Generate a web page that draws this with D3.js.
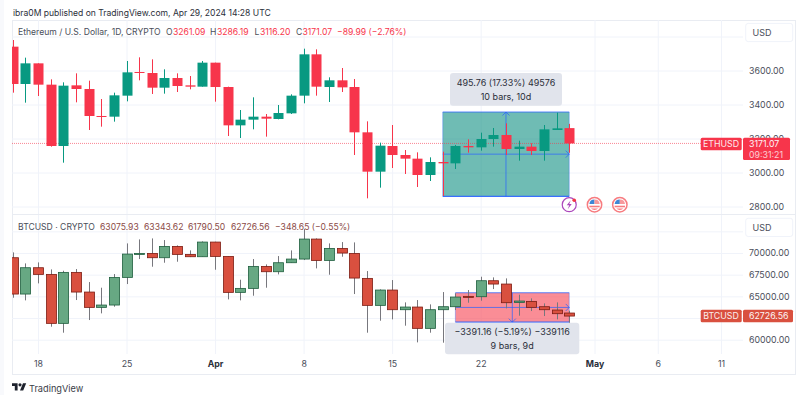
<!DOCTYPE html>
<html>
<head>
<meta charset="utf-8">
<script src="https://d3js.org/d3.v7.min.js"></script>
<style>
html, body { margin: 0; padding: 0; background: #fff; }
svg { display: block; font-family: Inter, "Noto Sans", sans-serif; }
</style>
</head>
<body>
<div class="canvas"></div>
<script>
const firstDay = Date.UTC(2024, 2, 16)
const lastDay = Date.UTC(2024, 3, 29)

const ethOpen = [3740.2,3520.6,3642.1,3516.7,3155.9,3512.7,3491.2,3332.4,3328.4,3452,3591.2,3585.3,3499,3555.9,3512.7,3504.9,3646.1,3502.9,3277.4,3310.8,3328.4,3314.7,3348,3452,3695.1,3502.9,3542.2,3502.9,3236.3,3004.9,3155.9,3102.9,3081.4,2985.3,3061.7,3053.9,3155.9,3148,3197,3220.6,3138.2,3152,3126.5,3250,3261.09]
const ethHigh = [3779.4,3675.5,3642.1,3548,3530.4,3583.3,3540.2,3432.3,3469.6,3655.9,3677.4,3665.7,3606.9,3583.3,3567.6,3655.9,3646.1,3504.9,3367.6,3442.2,3344.1,3397,3459.8,3728.4,3724.5,3559.8,3614.7,3550,3301,3175.5,3279.4,3132.3,3118.6,3089.2,3122.5,3161.8,3195,3234.3,3261.8,3289.2,3187.3,3171.6,3279.4,3351.9,3286.19]
const ethLow = [3469.6,3410.8,3450,3152,3057.8,3412.7,3250,3269.6,3299,3418.6,3542.2,3461.8,3463.7,3473.5,3489.2,3504.9,3416.6,3214.7,3202.9,3253.9,3210.8,3312.7,3344.1,3406.9,3452,3414.7,3473.5,3102.9,2848,2910.8,3026.4,2991.2,2914.7,2950,2861.8,3020.6,3116.6,3128.4,3152,3102.9,3069.6,3102.9,3069.6,3250,3116.2]
const ethClose = [3520.6,3642.1,3516.7,3155.9,3510.8,3491.2,3332.4,3326.5,3453.9,3589.2,3587.2,3499,3555.9,3508.8,3504.9,3646.1,3502.9,3277.4,3310.8,3328.4,3316.6,3350,3452,3695.1,3504.9,3542.2,3500.9,3236.3,3004.9,3157.8,3102.9,3081.4,2985.3,3061.7,3053.9,3155.9,3148,3197,3220.6,3138.2,3152,3126.5,3253.9,3259.8,3171.07]

const btcOpen = [69455,65266,68302,67533,61884,67764,65496,63728,63998,67187,69877,69954,69455,70761,69839,69570,71261,69608,65458,65919,68455,67840,68878,69301,71607,69147,70531,69954,67072,63959,65727,63459,63767,61307,63459,63805,64997,64958,66803,66419,64305,64420,63805,63421,63075.93]
const btcHigh = [70069,68801,68916,68109,67956,68148,66649,65996,67571,71107,71568,71683,71491,70876,70300,71338,71299,69608,66918,69301,68686,69647,70300,72760,71683,71107,71261,71222,67917,65804,66880,64305,64574,64074,65496,65343,65727,67264,67187,67072,65189,64766,64190,64305,63343.62]
const btcLow = [64843,64536,66495,61500,60808,64574,62268,63037,63805,66418,69301,68417,68878,68993,69531,69570,68071,64651,64536,65073,65996,67533,68878,69186,68225,67494,69570,65266,60808,62191,62345,61615,59693,60808,59655,63421,64267,64497,65842,63613,62768,63306,62729,62345,61790.5]
const btcClose = [65266,68302,67533,61884,67764,65496,63728,63998,67187,69877,69954,69455,70761,69839,69570,71261,69608,65458,65919,68455,67840,68878,69301,71607,69147,70531,69993,67110,63959,65727,63459,63767,61307,63459,63805,64920,64920,66803,66419,64267,64459,63728,63459,63000,62726.56]

const ethTicks = [2800, 3000, 3200, 3400, 3600]
const ethGrid = [2800, 3000, 3200, 3400, 3600, 3800]
const btcTicks = [60000, 65000, 67500, 70000]
const btcGrid = [60000, 62500, 65000, 67500, 70000, 72500]
const timeTicks = ['2024-03-18','2024-03-25','2024-04-01','2024-04-08','2024-04-15','2024-04-22','2024-05-01','2024-05-06','2024-05-11']
const timeLabels = ['18','25','Apr','8','15','22','May','6','11']
const eventDays = ['2024-04-29','2024-05-01','2024-05-03']

// measure tools: [from day, to day, from price, to price]
const ethMeasure = ['2024-04-19', '2024-04-29', 2860.1, 3355.86]
const btcMeasure = ['2024-04-20', '2024-04-29', 65415, 62023.84]

const dims = {width: 808, height: 395, left: 12, right: 743, outer: 796}
const ethPane = {top: 20, bottom: 214}
const btcPane = {top: 215, bottom: 354}

const colors = {
    ethUp: '#089981', ethDown: '#f7354b',
    btcUp: '#67a883', btcDown: '#d9503f',
    btcUpEdge: '#1e5e3e', btcDownEdge: '#7c1c12',
    btcWick: '#77777d',
    grid: '#f0f3fa', text: '#4a4e5a', blue: '#2962ff', tag: '#e0e3eb'
}

const days = d3.utcDay.range(firstDay, lastDay + 1)
const day = s => new Date(s + 'T00:00:00Z')

const x = d3.scaleUtc()
    .domain([day('2024-03-18'), day('2024-05-11')])
    .range([38, 721])

const yEth = d3.scaleLinear().domain([2800, 3600]).range([206.5, 70.5])
const yBtc = d3.scaleLinear().domain([60000, 70000]).range([339.7, 253])

const svg = d3.select('.canvas')
    .append('svg')
    .attr('width', dims.width)
    .attr('height', dims.height)

svg.append('rect').attr('width', dims.width).attr('height', dims.height).attr('fill', '#fff')
svg.append('rect').attr('width', 4).attr('height', dims.height).attr('fill', '#f8f9fc')

const defs = svg.append('defs')
const addClip = (id, pane) => {
    defs.append('clipPath').attr('id', id).append('rect')
        .attr('x', dims.left).attr('y', pane.top)
        .attr('width', dims.right - dims.left).attr('height', pane.bottom - pane.top)
}
addClip('ethClip', ethPane)
addClip('btcClip', btcPane)

// frame of the chart
const hLine = (y, x1, x2) => svg.append('line')
    .attr('x1', x1).attr('x2', x2).attr('y1', y + .5).attr('y2', y + .5)
    .attr('stroke', '#e9ecf2')
hLine(20, dims.left, dims.outer)
hLine(214, dims.left, dims.outer)
hLine(374, dims.left, dims.outer)
svg.append('line').attr('x1', dims.left + .5).attr('x2', dims.left + .5)
    .attr('y1', 20).attr('y2', 374).attr('stroke', '#e9ecf2')
svg.append('line').attr('x1', dims.outer - .5).attr('x2', dims.outer - .5)
    .attr('y1', 20).attr('y2', 374).attr('stroke', '#e9ecf2')

// grid lines
const drawGrid = (scale, values, pane) => {
    svg.append('g').attr('class', 'hgrid')
        .attr('transform', `translate(${dims.left},0)`)
        .call(d3.axisRight(scale).tickValues(values).tickSize(dims.right - dims.left).tickFormat(''))
        .call(g => g.select('.domain').remove())
        .selectAll('line').attr('stroke', colors.grid)
    svg.append('g').attr('class', 'vgrid')
        .attr('transform', `translate(0,${pane.top})`)
        .call(d3.axisBottom(x).tickValues(timeTicks.map(day)).tickSize(pane.bottom - pane.top).tickFormat(''))
        .call(g => g.select('.domain').remove())
        .selectAll('line').attr('stroke', colors.grid)
}
drawGrid(yEth, ethGrid, ethPane)
drawGrid(yBtc, btcGrid, btcPane)

// measure box with its cross and arrows, sits below the candles
const drawMeasure = (m, scale, fill, opacity, tip) => {
    const x1 = x(day(m[0])), x2 = x(day(m[1]))
    const y1 = scale(m[2]), y2 = scale(m[3])
    const top = Math.min(y1, y2), bottom = Math.max(y1, y2)
    const g = svg.append('g').attr('fill', 'none').attr('stroke', colors.blue)
    g.append('rect').attr('x', x1).attr('y', top).attr('width', x2 - x1).attr('height', bottom - top)
        .attr('fill', fill).attr('fill-opacity', opacity).attr('stroke', 'none')
    g.append('line').attr('x1', x1).attr('x2', x2).attr('y1', top).attr('y2', top).attr('stroke-width', 1.2).attr('opacity', .75)
    g.append('line').attr('x1', x1).attr('x2', x2).attr('y1', bottom).attr('y2', bottom).attr('stroke-width', 1.2).attr('opacity', .9)
    g.append('line').attr('x1', x1).attr('x2', x1).attr('y1', top).attr('y2', bottom).attr('opacity', .35)
    g.append('line').attr('x1', x2).attr('x2', x2).attr('y1', top).attr('y2', bottom).attr('opacity', .35)
    const mx = (x1 + x2) / 2, my = (y1 + y2) / 2
    g.append('line').attr('x1', x1).attr('x2', x2).attr('y1', my).attr('y2', my).attr('opacity', .7)
    g.append('line').attr('x1', mx).attr('x2', mx).attr('y1', top).attr('y2', bottom).attr('opacity', .7)
    g.append('path').attr('opacity', .75)
        .attr('d', `M${x2 - 3.5},${my - 3.5}L${x2},${my}L${x2 - 3.5},${my + 3.5}`)
    const ay = tip === 'up' ? top : bottom
    const dir = tip === 'up' ? 1 : -1
    g.append('path').attr('opacity', .75)
        .attr('d', `M${mx - 3.5},${ay + dir * 3.5}L${mx},${ay}L${mx + 3.5},${ay + dir * 3.5}`)
}
drawMeasure(ethMeasure, yEth, '#00897b', .565, 'up')
drawMeasure(btcMeasure, yBtc, '#f7525f', .66, 'down')

// dotted last price line of ETH
svg.append('line')
    .attr('x1', dims.left).attr('x2', 701)
    .attr('y1', yEth(3171.07)).attr('y2', yEth(3171.07))
    .attr('stroke', colors.ethDown).attr('stroke-dasharray', '1 1').attr('opacity', .6)

// candles
const drawCandles = (clip, scale, open, high, low, close, style) => {
    const g = svg.append('g').attr('clip-path', `url(#${clip})`)
    const candle = g.selectAll('g').data(days).enter().append('g')
    const cx = d => Math.round(x(d))
    candle.append('line')
        .attr('x1', d => cx(d) + .5).attr('x2', d => cx(d) + .5)
        .attr('y1', (d, i) => scale(high[i])).attr('y2', (d, i) => scale(low[i]))
        .attr('stroke', (d, i) => style.wick(close[i] >= open[i]))
    candle.append('rect')
        .attr('x', d => cx(d) - 4.5).attr('width', 10)
        .attr('y', (d, i) => scale(Math.max(open[i], close[i])))
        .attr('height', (d, i) => Math.max(1, Math.abs(scale(open[i]) - scale(close[i]))))
        .attr('fill', (d, i) => close[i] >= open[i] ? style.up : style.down)
        .attr('stroke', (d, i) => style.edge ? style.edge(close[i] >= open[i]) : 'none')
        .attr('stroke-width', .8)
}
drawCandles('ethClip', yEth, ethOpen, ethHigh, ethLow, ethClose, {
    up: colors.ethUp, down: colors.ethDown,
    wick: up => up ? colors.ethUp : colors.ethDown
})
drawCandles('btcClip', yBtc, btcOpen, btcHigh, btcLow, btcClose, {
    up: colors.btcUp, down: colors.btcDown,
    wick: () => colors.btcWick,
    edge: up => up ? colors.btcUpEdge : colors.btcDownEdge
})

// measure tags
const drawTag = (x1, x2, y1, y2, lines) => {
    svg.append('rect').attr('x', x1).attr('y', y1).attr('width', x2 - x1).attr('height', y2 - y1)
        .attr('rx', 3).attr('fill', colors.tag).attr('opacity', .97)
    lines.forEach((t, i) => svg.append('text')
        .attr('x', (x1 + x2) / 2).attr('y', y1 + 12.5 + i * 14)
        .attr('text-anchor', 'middle').attr('font-size', 9).attr('fill', '#2a2e39').text(t))
}
drawTag(450, 562, 73, 105.7, ['495.76 (17.33%) 49576', '10 bars, 10d'])
drawTag(445, 579.3, 322.7, 354.3, ['\u22123391.16 (\u22125.19%) \u2212339116', '9 bars, 9d'])

// price axes
const drawPrice = (scale, values) => {
    svg.append('g')
        .attr('transform', 'translate(749,0)')
        .call(d3.axisRight(scale).tickValues(values).tickSize(0).tickPadding(0).tickFormat(d3.format('.2f')))
        .call(g => g.select('.domain').remove())
        .selectAll('text').attr('font-family', 'Inter').attr('font-size', 8.8).attr('fill', colors.text)
}
drawPrice(yEth, ethTicks)
drawPrice(yBtc, btcTicks)

// time axis
svg.append('g')
    .attr('transform', 'translate(0,361)')
    .call(d3.axisBottom(x).tickValues(timeTicks.map(day)).tickSize(0).tickPadding(0)
        .tickFormat((d, i) => timeLabels[i]))
    .call(g => g.select('.domain').remove())
    .selectAll('text')
    .attr('font-family', 'Inter').attr('font-size', 8.8)
    .attr('font-weight', (d, i) => isNaN(+timeLabels[i]) ? 700 : 400)
    .attr('fill', (d, i) => isNaN(+timeLabels[i]) ? '#2a2e39' : colors.text)

// USD buttons
const drawUsd = y => {
    svg.append('rect').attr('x', 745.7).attr('y', y).attr('width', 47).attr('height', 18.2)
        .attr('rx', 2.5).attr('fill', '#fff').attr('stroke', '#f0f3fa')
    svg.append('text').attr('x', 752.5).attr('y', y + 12.4).attr('font-size', 9).attr('fill', colors.text).text('USD')
}
drawUsd(23.4)
drawUsd(218.3)

// last price labels
const drawLabel = (color, name, y, h, right, lines) => {
    svg.append('rect').attr('x', 700.7).attr('y', y).attr('width', 41).attr('height', 12.6)
        .attr('rx', 1.5).attr('fill', color)
    svg.append('text').attr('x', 721).attr('y', y + 9.6).attr('text-anchor', 'middle')
        .attr('font-size', 8.8).attr('fill', '#fff').attr('opacity', .9).text(name)
    svg.append('rect').attr('x', 743).attr('y', y).attr('width', right - 743).attr('height', h)
        .attr('rx', 1.5).attr('fill', color)
    lines.forEach((t, i) => svg.append('text').attr('x', 749).attr('y', y + 9.6 + i * 10.6)
        .attr('font-size', 8.8).attr('fill', '#fff').attr('opacity', i ? .75 : .95).text(t))
}
drawLabel(colors.ethDown, 'ETHUSD', 137.7, 22.3, 790, ['3171.07', '09:31:21'])
drawLabel(colors.btcDown, 'BTCUSD', 309.7, 12.6, 793, ['62726.56'])

// event icons under the ETH pane
const iconY = 204.7
const icons = svg.append('g').selectAll('g').data(eventDays).enter().append('g')
    .attr('transform', d => `translate(${x(day(d))},${iconY})`)
icons.each(function(d, i) {
    const g = d3.select(this)
    if(i === 0) {
        g.append('circle').attr('r', 7).attr('fill', '#fff').attr('stroke', '#ab47bc').attr('stroke-width', 1.2)
        g.append('path').attr('d', 'M1.5,-4.5L-2.5,0.6H0L-1.5,4.5L2.5,-0.8H0Z').attr('fill', '#ab47bc')
        g.append('circle').attr('cx', 5).attr('cy', -4.5).attr('r', 1.8).attr('fill', '#f23645')
    } else {
        g.append('circle').attr('r', 7.2).attr('fill', '#fff').attr('stroke', '#f77c80').attr('stroke-width', 1.5)
        g.append('path').attr('d', 'M-5.2,-0.8A5.2,5.2 0 0 1 0,-5.2V-0.8Z').attr('fill', '#3c87d6')
        g.append('path').attr('d', 'M0,-5.2A5.2,5.2 0 0 1 5.2,-0.8H0Z').attr('fill', '#f7999c')
        g.append('path').attr('d', 'M-5.2,1H5.2V2.6H-5.2Z').attr('fill', '#f77c80')
        g.append('path').attr('d', 'M-3.6,3.8H3.6A5.2,5.2 0 0 1 0,5.2A5.2,5.2 0 0 1 -3.6,3.8Z').attr('fill', '#f77c80')
    }
})

// legends and header
const put = (tx, ty, t, color, size) => svg.append('text')
    .attr('x', tx).attr('y', ty).attr('font-size', size || 8.6).attr('fill', color).text(t)

put(13, 15.5, 'ibra0M published on TradingView.com, Apr 29, 2024 14:28 UTC', '#2a2e39', 8.55)

const red = colors.ethDown
put(18, 35, 'Ethereum / U.S. Dollar, 1D, CRYPTO', colors.text)
put(166, 35, 'O', colors.text)
put(173, 35, '3261.09', red)
put(210, 35, 'H', colors.text)
put(217, 35, '3286.19', red)
put(254.5, 35, 'L', colors.text)
put(260, 35, '3116.20', red)
put(296, 35, 'C', colors.text)
put(302.5, 35, '3171.07', red)
put(337, 35, '\u221289.99 (\u22122.76%)', red)

const brown = '#8b4a46'
put(18, 229.5, 'BTCUSD \u00b7 CRYPTO', colors.text)
put(100, 229.5, '63075.93', brown)
put(144, 229.5, '63343.62', brown)
put(188, 229.5, '61790.50', brown)
put(231, 229.5, '62726.56', brown)
put(275, 229.5, '\u2212348.65 (\u22120.55%)', brown)

// footer logo
const logo = svg.append('g').attr('transform', 'translate(12,381.6) scale(.4)').attr('fill', '#1e222d')
logo.append('path').attr('d', 'M14 22H7V11H0V4h14v18zM28 22h-8l7.5-18h8L28 22z')
logo.append('circle').attr('cx', 20).attr('cy', 8).attr('r', 4)
put(29, 391.5, 'TradingView', '#3a3d47', 9.2)
</script>
</body>
</html>
